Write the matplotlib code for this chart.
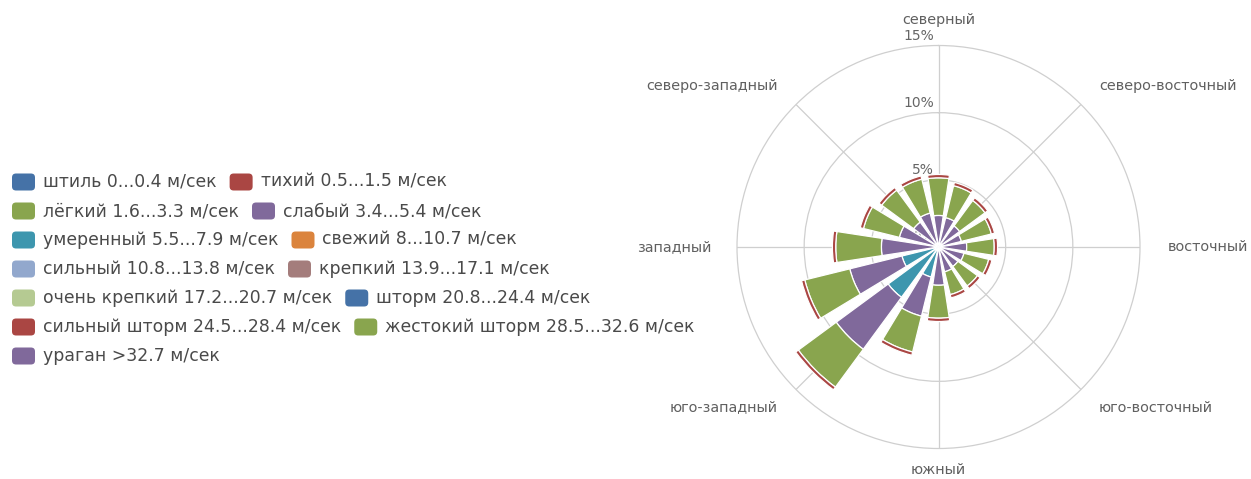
import numpy as np
import matplotlib
matplotlib.use("Agg")
import matplotlib.pyplot as plt
from matplotlib.patches import FancyBboxPatch
import matplotlib.transforms as mtransforms

# Wind speed classes (legend order) and their colours
speed_classes = [
    "штиль 0...0.4 м/сек",
    "тихий 0.5...1.5 м/сек",
    "лёгкий 1.6...3.3 м/сек",
    "слабый 3.4...5.4 м/сек",
    "умеренный 5.5...7.9 м/сек",
    "свежий 8...10.7 м/сек",
    "сильный 10.8...13.8 м/сек",
    "крепкий 13.9...17.1 м/сек",
    "очень крепкий 17.2...20.7 м/сек",
    "шторм 20.8...24.4 м/сек",
    "сильный шторм 24.5...28.4 м/сек",
    "жестокий шторм 28.5...32.6 м/сек",
    "ураган >32.7 м/сек",
]
class_colors = [
    "#4572A7", "#AA4643", "#89A54E", "#80699B", "#3D96AE", "#DB843D",
    "#92A8CD", "#A47D7C", "#B5CA92", "#4572A7", "#AA4643", "#89A54E", "#80699B",
]

# Axis labels every 45 degrees
axis_labels = ["северный", "северо-восточный", "восточный", "юго-восточный",
               "южный", "юго-западный", "западный", "северо-западный"]

# Frequency (%) per direction, 16 rhumbs clockwise from north
calm      = [0.0] * 16
quiet     = [0.25, 0.25, 0.25, 0.25, 0.25, 0.25, 0.25, 0.25,
             0.25, 0.25, 0.25, 0.25, 0.25, 0.25, 0.25, 0.25]
light     = [2.80, 2.45, 2.35, 2.30, 2.05, 1.90, 1.80, 1.75,
             2.45, 2.75, 3.50, 3.45, 3.40, 2.75, 2.95, 2.60]
weak      = [2.35, 2.25, 1.95, 1.75, 2.10, 1.95, 1.80, 1.90,
             2.85, 3.00, 4.80, 4.00, 4.25, 3.00, 2.30, 2.60]
moderate  = [0.0, 0.0, 0.0, 0.0, 0.0, 0.0, 0.0, 0.0,
             0.0, 2.30, 4.65, 2.80, 0.0, 0.0, 0.0, 0.0]
fresh     = [0.0] * 16
strong    = [0.0] * 16
near_gale = [0.0] * 16
gale      = [0.0] * 16
storm     = [0.0] * 16
strong_storm  = [0.0] * 16
violent_storm = [0.0] * 16
hurricane     = [0.0] * 16

series = [calm, quiet, light, weak, moderate, fresh, strong, near_gale,
          gale, storm, strong_storm, violent_storm, hurricane]

W, H = 1251, 479
fig = plt.figure(figsize=(W / 100, H / 100), dpi=100)
fig.patch.set_facecolor("white")

# Polar axes: centre (938.5, 247) px, radius 201.5 px
cx, cy, R = 938.5, 247.0, 201.5
ax = fig.add_axes([(cx - R) / W, (H - cy - R) / H, 2 * R / W, 2 * R / H],
                  projection="polar")
ax.set_theta_zero_location("N")
ax.set_theta_direction(-1)
ax.set_ylim(0, 15)
ax.set_yticks([5, 10])
ax.set_yticklabels([])
ax.set_xticks(np.deg2rad(np.arange(0, 360, 45)))
ax.set_xticklabels([])
ax.tick_params(length=0)
grid_color = "#CFCFCF"
ax.grid(True, color=grid_color, linewidth=0.9)
ax.spines["polar"].set_color(grid_color)
ax.spines["polar"].set_linewidth(0.9)
ax.set_axisbelow(True)

n = len(calm)
theta = np.deg2rad(np.arange(n) * 360.0 / n)
width = np.deg2rad(360.0 / n) * 0.77

# Stack so that the first class is outermost
bottom = np.zeros(n)
for vals, col in zip(series[::-1], class_colors[::-1]):
    vals = np.asarray(vals, dtype=float)
    if vals.sum() > 0:
        ax.bar(theta, vals, width=width, bottom=bottom, color=col,
               edgecolor="white", linewidth=0.9, zorder=3)
    bottom = bottom + vals

# Radial percentage labels along the north line
off = mtransforms.ScaledTranslation(-4.5 / 100, 2.5 / 100, fig.dpi_scale_trans)
for v in [0, 5, 10, 15]:
    ax.text(0, v, f"{v}%", ha="right", va="bottom", fontsize=10,
            color="#666666", transform=ax.transData + off, zorder=2)

# Direction labels
label_r = 16.9
for i, lab in enumerate(axis_labels):
    ang = i * 45
    if ang in (0, 180):
        ha = "center"
    elif ang < 180:
        ha = "left"
    else:
        ha = "right"
    r = label_r - 0.3 if ang == 180 else label_r
    if ang == 90:
        r = 17.05
    ax.text(np.deg2rad(ang), r, lab, ha=ha, va="center", fontsize=10.4,
            color="#606060", clip_on=False)

# Legend (flow layout, two items per row)
ident = mtransforms.IdentityTransform()
renderer = fig.canvas.get_renderer()
rows = [[0, 1], [2, 3], [4, 5], [6, 7], [8, 9], [10, 11], [12]]
row_y0, row_step = 182, 29
sym_w, sym_h = 23, 17
for ri, row in enumerate(rows):
    y = H - (row_y0 + ri * row_step)
    x = 12
    for idx in row:
        box = FancyBboxPatch((x, y - sym_h / 2), sym_w, sym_h,
                             boxstyle="round,pad=0,rounding_size=4",
                             facecolor=class_colors[idx], edgecolor="none",
                             transform=ident)
        fig.add_artist(box)
        t = fig.text(x + sym_w + 8, y, speed_classes[idx], ha="left",
                     va="center", fontsize=12.4, color="#4A4A4A",
                     transform=ident)
        tw = t.get_window_extent(renderer).width
        x = x + sym_w + 8 + tw + 13

fig.savefig("out.png", dpi=100, facecolor="white")
